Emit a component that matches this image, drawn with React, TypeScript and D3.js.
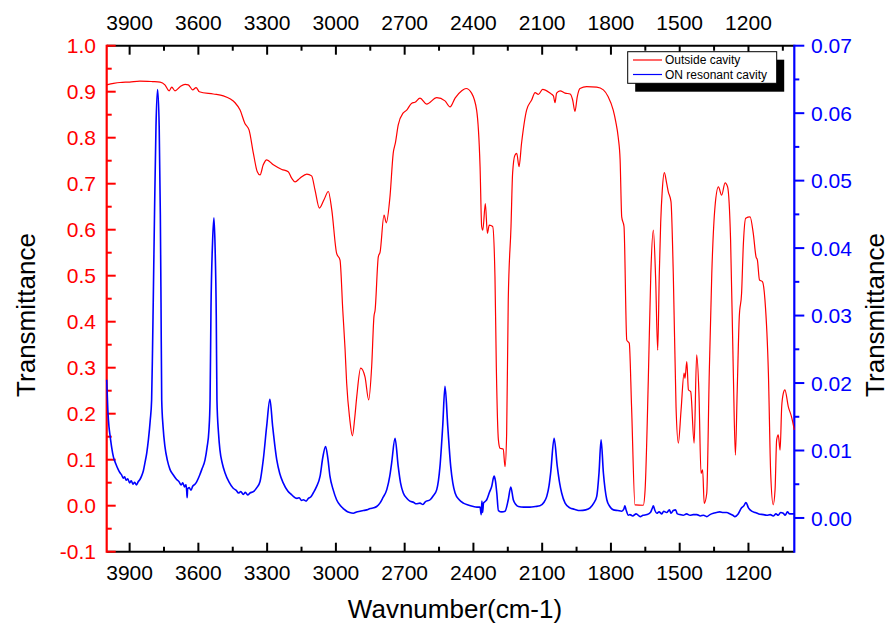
import React from "react";
import * as d3 from "d3";

const redSeries: [number, number][] = [
  [4000, 0.915], [3970, 0.918], [3942, 0.92], [3900, 0.921], [3855, 0.923], [3800, 0.922],
  [3767, 0.921], [3746, 0.915], [3728, 0.902], [3716, 0.91], [3702, 0.902], [3680, 0.911],
  [3658, 0.916], [3644, 0.915], [3625, 0.904], [3610, 0.909], [3596, 0.9], [3535, 0.895],
  [3491, 0.891], [3460, 0.884], [3440, 0.876], [3418, 0.86], [3397, 0.831], [3379, 0.817],
  [3360, 0.766], [3343, 0.726], [3331, 0.719], [3317, 0.741], [3302, 0.752], [3273, 0.741],
  [3236, 0.731], [3208, 0.726], [3193, 0.712], [3178, 0.704], [3157, 0.712], [3127, 0.721],
  [3106, 0.717], [3091, 0.686], [3072, 0.647], [3052, 0.665], [3033, 0.683], [3018, 0.643],
  [2997, 0.549], [2982, 0.534], [2970, 0.425], [2960, 0.34], [2953, 0.266], [2940, 0.19],
  [2928, 0.152], [2918, 0.19], [2909, 0.237], [2892, 0.299], [2873, 0.28], [2857, 0.23],
  [2844, 0.302], [2834, 0.411], [2829, 0.425], [2815, 0.541], [2807, 0.552], [2790, 0.632],
  [2780, 0.615], [2764, 0.672], [2750, 0.766], [2740, 0.79], [2728, 0.828], [2706, 0.854],
  [2691, 0.86], [2669, 0.875], [2655, 0.877], [2633, 0.886], [2604, 0.873], [2560, 0.887],
  [2524, 0.88], [2502, 0.867], [2480, 0.886], [2451, 0.902], [2432, 0.907], [2408, 0.897],
  [2386, 0.86], [2371, 0.737], [2364, 0.607], [2359, 0.599], [2348, 0.657], [2339, 0.592],
  [2331, 0.61], [2316, 0.607], [2306, 0.498], [2300, 0.3], [2291, 0.143], [2284, 0.125],
  [2270, 0.123], [2262, 0.085], [2255, 0.157], [2248, 0.447], [2236, 0.607], [2229, 0.723],
  [2219, 0.762], [2211, 0.766], [2201, 0.737], [2190, 0.788], [2168, 0.86], [2146, 0.882],
  [2131, 0.898], [2117, 0.894], [2098, 0.905], [2066, 0.897], [2051, 0.891], [2044, 0.876],
  [2037, 0.897], [2022, 0.902], [2000, 0.897], [1978, 0.895], [1967, 0.882], [1957, 0.857],
  [1947, 0.889], [1935, 0.907], [1906, 0.911], [1862, 0.91], [1833, 0.904], [1812, 0.889],
  [1790, 0.86], [1779, 0.835], [1768, 0.8], [1760, 0.752], [1753, 0.628], [1743, 0.607],
  [1731, 0.36], [1720, 0.353], [1710, 0.215], [1695, 0.002], [1659, 0.001], [1651, 0.034],
  [1637, 0.273], [1626, 0.505], [1615, 0.599], [1605, 0.494], [1596, 0.338], [1589, 0.505],
  [1583, 0.614], [1576, 0.686], [1567, 0.724], [1557, 0.701], [1550, 0.683], [1538, 0.661],
  [1528, 0.505], [1516, 0.215], [1506, 0.136], [1494, 0.208], [1481, 0.288], [1477, 0.277],
  [1469, 0.313], [1462, 0.252], [1452, 0.248], [1437, 0.136], [1426, 0.328], [1416, 0.244],
  [1407, 0.07], [1400, 0.078], [1393, 0.005], [1382, 0.027], [1371, 0.288], [1360, 0.505],
  [1346, 0.65], [1331, 0.693], [1317, 0.675], [1302, 0.702], [1291, 0.693], [1278, 0.578],
  [1266, 0.288], [1257, 0.11], [1249, 0.252], [1240, 0.411], [1230, 0.462], [1222, 0.571],
  [1212, 0.625], [1193, 0.628], [1179, 0.592], [1167, 0.541], [1161, 0.534], [1152, 0.491],
  [1139, 0.487], [1128, 0.447], [1113, 0.288], [1103, 0.07], [1092, 0.002], [1084, 0.034],
  [1077, 0.143], [1070, 0.154], [1062, 0.121], [1055, 0.215], [1048, 0.244], [1041, 0.252],
  [1026, 0.215], [1012, 0.193], [1000, 0.165],
];

const blueSeries: [number, number][] = [
  [4000, 0.0205], [3995, 0.016], [3990, 0.0135], [3986, 0.0124], [3978, 0.0104], [3971, 0.0091],
  [3960, 0.008], [3950, 0.0072], [3942, 0.0067], [3935, 0.0064], [3928, 0.0059], [3922, 0.0061],
  [3915, 0.0056], [3908, 0.0058], [3900, 0.0052], [3893, 0.0055], [3885, 0.005], [3878, 0.0053],
  [3870, 0.0049], [3862, 0.0054], [3855, 0.0057], [3848, 0.0062], [3840, 0.007], [3833, 0.0082],
  [3825, 0.0097], [3818, 0.0116], [3810, 0.0145], [3804, 0.0175], [3800, 0.025], [3797, 0.0319],
  [3791, 0.046], [3785, 0.058], [3778, 0.0635], [3771, 0.058], [3766, 0.045], [3763, 0.0319],
  [3760, 0.0175], [3754, 0.0135], [3746, 0.0106], [3735, 0.0085], [3724, 0.0072], [3710, 0.0064],
  [3695, 0.0057], [3685, 0.0054], [3675, 0.0049], [3668, 0.0052], [3660, 0.0046], [3654, 0.0049],
  [3651, 0.004], [3649, 0.003], [3647, 0.0043], [3640, 0.0045], [3632, 0.0041], [3625, 0.0047],
  [3615, 0.005], [3607, 0.0054], [3595, 0.0063], [3585, 0.0072], [3571, 0.0086], [3562, 0.0105],
  [3554, 0.013], [3549, 0.0175], [3545, 0.031], [3538, 0.041], [3532, 0.0445], [3527, 0.04],
  [3522, 0.03], [3519, 0.0175], [3512, 0.0125], [3506, 0.0101], [3495, 0.008], [3484, 0.0067],
  [3466, 0.0053], [3448, 0.0044], [3435, 0.0041], [3425, 0.0037], [3415, 0.0039], [3404, 0.0035],
  [3395, 0.0038], [3385, 0.0034], [3375, 0.0037], [3360, 0.0039], [3345, 0.0045], [3331, 0.0054],
  [3317, 0.0086], [3302, 0.0136], [3288, 0.0176], [3276, 0.0136], [3258, 0.0086], [3245, 0.0066],
  [3230, 0.0052], [3210, 0.004], [3195, 0.0035], [3186, 0.0032], [3170, 0.0029], [3160, 0.003],
  [3150, 0.0026], [3142, 0.0027], [3130, 0.0025], [3120, 0.0029], [3110, 0.0031], [3099, 0.0037],
  [3085, 0.0046], [3069, 0.0062], [3057, 0.009], [3045, 0.0106], [3035, 0.0088], [3026, 0.0062],
  [3012, 0.0042], [2997, 0.0027], [2980, 0.0018], [2965, 0.0013], [2953, 0.001], [2940, 0.0008],
  [2924, 0.0007], [2910, 0.0009], [2895, 0.001], [2880, 0.0011], [2866, 0.0012], [2850, 0.0014],
  [2835, 0.0015], [2822, 0.0017], [2808, 0.0022], [2795, 0.003], [2778, 0.0042], [2765, 0.0062],
  [2757, 0.0081], [2742, 0.0118], [2728, 0.0076], [2718, 0.0052], [2706, 0.0037], [2690, 0.0029],
  [2677, 0.0025], [2660, 0.0023], [2650, 0.0021], [2633, 0.0022], [2620, 0.002], [2610, 0.0024],
  [2589, 0.0027], [2575, 0.0033], [2560, 0.0042], [2546, 0.0076], [2534, 0.0136], [2524, 0.0195],
  [2512, 0.0136], [2499, 0.0076], [2490, 0.0052], [2480, 0.0037], [2462, 0.0027], [2444, 0.0022],
  [2420, 0.0019], [2400, 0.0017], [2385, 0.0016], [2371, 0.0016], [2366, 0.0005], [2363, 0.0025],
  [2360, 0.0008], [2356, 0.0022], [2350, 0.0024], [2342, 0.0027], [2330, 0.0038], [2320, 0.0047],
  [2310, 0.0062], [2304, 0.0055], [2298, 0.0037], [2291, 0.0011], [2276, 0.0009], [2262, 0.001],
  [2248, 0.0027], [2237, 0.0046], [2226, 0.0027], [2215, 0.002], [2204, 0.0017], [2180, 0.0016],
  [2153, 0.0016], [2130, 0.0017], [2110, 0.0018], [2093, 0.0023], [2080, 0.0032], [2070, 0.0048],
  [2063, 0.0067], [2048, 0.0118], [2034, 0.0076], [2024, 0.0052], [2015, 0.0037], [2000, 0.0022],
  [1979, 0.0015], [1960, 0.0013], [1935, 0.0011], [1910, 0.0012], [1891, 0.0015], [1875, 0.0022],
  [1862, 0.0032], [1852, 0.0067], [1843, 0.0116], [1833, 0.0067], [1818, 0.0027], [1805, 0.0017],
  [1789, 0.0012], [1770, 0.0011], [1753, 0.001], [1744, 0.0013], [1739, 0.0018], [1734, 0.0012],
  [1724, 0.0004], [1717, 0.0005], [1705, 0.0003], [1690, 0.0006], [1672, 0.0002], [1660, 0.0004],
  [1643, 0.0005], [1628, 0.0008], [1620, 0.0014], [1615, 0.0018], [1608, 0.0011], [1600, 0.0007],
  [1590, 0.0009], [1578, 0.0006], [1570, 0.001], [1557, 0.0008], [1545, 0.0012], [1538, 0.0007],
  [1528, 0.0011], [1518, 0.0012], [1510, 0.0006], [1499, 0.0005], [1485, 0.0004], [1470, 0.0006],
  [1455, 0.0004], [1441, 0.0005], [1425, 0.0005], [1410, 0.0003], [1396, 0.0004], [1382, 0.0002],
  [1368, 0.0005], [1353, 0.0007], [1340, 0.0008], [1325, 0.0009], [1310, 0.0008], [1295, 0.0008],
  [1280, 0.0006], [1268, 0.0004], [1259, 0.0002], [1245, 0.0006], [1230, 0.0015], [1220, 0.0018],
  [1211, 0.0023], [1200, 0.0015], [1186, 0.001], [1170, 0.0008], [1155, 0.0006], [1135, 0.0005],
  [1120, 0.0004], [1105, 0.0005], [1092, 0.0003], [1080, 0.0006], [1070, 0.0004], [1060, 0.0008],
  [1048, 0.0007], [1040, 0.0004], [1030, 0.0009], [1020, 0.0006], [1004, 0.0006], [1000, 0.0007],
];

const xMajorTicks = [3900, 3600, 3300, 3000, 2700, 2400, 2100, 1800, 1500, 1200];
const xMinorTicks = [3750, 3450, 3150, 2850, 2550, 2250, 1950, 1650, 1350, 1050];
const leftMajorTicks = [-0.1, 0.0, 0.1, 0.2, 0.3, 0.4, 0.5, 0.6, 0.7, 0.8, 0.9, 1.0];
const leftMinorTicks = [-0.05, 0.05, 0.15, 0.25, 0.35, 0.45, 0.55, 0.65, 0.75, 0.85, 0.95];
const rightMajorTicks = [0.0, 0.01, 0.02, 0.03, 0.04, 0.05, 0.06, 0.07];
const rightMinorTicks = [0.005, 0.015, 0.025, 0.035, 0.045, 0.055, 0.065];

const seriesNames = ["Outside cavity", "ON resonant cavity"];
const seriesColors = ["#ff0000", "#0000ff"];

const W = 890;
const H = 630;
const L = 106.7;
const R = 794.3;
const T = 45.7;
const B = 551.7;
const FONT = "'Liberation Sans', Arial, sans-serif";

export default function App() {
  const x = d3.scaleLinear().domain([4000, 1000]).range([L, R]);
  const yL = d3.scaleLinear().domain([-0.1, 1.0]).range([B, T]);
  const yR = d3.scaleLinear().domain([-0.005, 0.07]).range([B, T]);

  const redLine = d3
    .line<[number, number]>()
    .x((d) => x(d[0]))
    .y((d) => yL(d[1]))
    .curve(d3.curveMonotoneX);
  const blueLine = d3
    .line<[number, number]>()
    .x((d) => x(d[0]))
    .y((d) => yR(d[1]))
    .curve(d3.curveMonotoneX);

  const majorLen = 9;
  const minorLen = 5;

  return (
    <svg
      width={W}
      height={H}
      style={{ position: "absolute", left: 0, top: 0, background: "#fff" }}
      fontFamily={FONT}
    >
      <rect x={0} y={0} width={W} height={H} fill="#fff" />

      {/* top and bottom axes */}
      {xMajorTicks.map((t) => (
        <g key={"tmaj" + t}>
          <line x1={x(t)} x2={x(t)} y1={T} y2={T + majorLen} stroke="#000" strokeWidth={2} />
          <line x1={x(t)} x2={x(t)} y1={B} y2={B - majorLen} stroke="#000" strokeWidth={2} />
          <text x={x(t)} y={30} textAnchor="middle" fontSize={21} fill="#000">
            {t}
          </text>
          <text x={x(t)} y={580} textAnchor="middle" fontSize={21} fill="#000">
            {t}
          </text>
        </g>
      ))}
      {xMinorTicks.map((t) => (
        <g key={"tmin" + t}>
          <line x1={x(t)} x2={x(t)} y1={T} y2={T + minorLen} stroke="#000" strokeWidth={2} />
          <line x1={x(t)} x2={x(t)} y1={B} y2={B - minorLen} stroke="#000" strokeWidth={2} />
        </g>
      ))}
      <line x1={L} x2={R} y1={T} y2={T} stroke="#000" strokeWidth={2} />
      <line x1={L} x2={R} y1={B} y2={B} stroke="#000" strokeWidth={2} />

      {/* left axis */}
      {leftMajorTicks.map((t) => (
        <g key={"lmaj" + t}>
          <line x1={L} x2={L + majorLen} y1={yL(t)} y2={yL(t)} stroke="#ff0000" strokeWidth={2} />
          <text x={96} y={yL(t)} dy="0.36em" textAnchor="end" fontSize={21} fill="#ff0000">
            {t.toFixed(1)}
          </text>
        </g>
      ))}
      {leftMinorTicks.map((t) => (
        <line key={"lmin" + t} x1={L} x2={L + minorLen} y1={yL(t)} y2={yL(t)} stroke="#ff0000" strokeWidth={2} />
      ))}
      <line x1={L} x2={L} y1={T - 1} y2={B + 1} stroke="#ff0000" strokeWidth={2.2} />

      {/* right axis */}
      {rightMajorTicks.map((t) => (
        <g key={"rmaj" + t}>
          <line x1={R} x2={R + 10} y1={yR(t)} y2={yR(t)} stroke="#0000ff" strokeWidth={2} />
          <text x={811} y={yR(t)} dy="0.36em" textAnchor="start" fontSize={21} fill="#0000ff">
            {t.toFixed(2)}
          </text>
        </g>
      ))}
      {rightMinorTicks.map((t) => (
        <line key={"rmin" + t} x1={R} x2={R + minorLen} y1={yR(t)} y2={yR(t)} stroke="#0000ff" strokeWidth={2} />
      ))}
      <line x1={R} x2={R} y1={T - 1} y2={B + 1} stroke="#0000ff" strokeWidth={2.2} />

      {/* series */}
      <path d={redLine(redSeries) || ""} fill="none" stroke={seriesColors[0]} strokeWidth={1.2} />
      <path d={blueLine(blueSeries) || ""} fill="none" stroke={seriesColors[1]} strokeWidth={1.6} />

      {/* titles */}
      <text transform="translate(35,315) rotate(-90)" textAnchor="middle" fontSize={26} fill="#000">
        Transmittance
      </text>
      <text transform="translate(884,315) rotate(-90)" textAnchor="middle" fontSize={26} fill="#000">
        Transmittance
      </text>
      <text x={455} y={618} textAnchor="middle" fontSize={26} fill="#000">
        Wavnumber(cm-1)
      </text>

      {/* legend */}
      <rect x={635.2} y={59.7} width={149} height={32} fill="#000" />
      <rect x={627.7} y={51.7} width={149} height={31.6} fill="#fff" stroke="#000" strokeWidth={1} />
      {seriesNames.map((n, i) => (
        <g key={n}>
          <line x1={633} x2={662} y1={60 + i * 14.5} y2={60 + i * 14.5} stroke={seriesColors[i]} strokeWidth={1.2} />
          <text x={665} y={60 + i * 14.5} dy="0.35em" fontSize={12} fill="#000">
            {n}
          </text>
        </g>
      ))}
    </svg>
  );
}
